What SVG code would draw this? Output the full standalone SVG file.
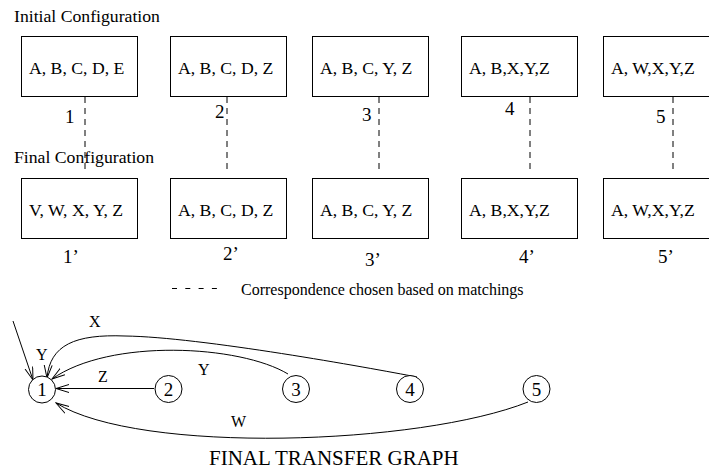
<svg xmlns="http://www.w3.org/2000/svg" width="709" height="471" viewBox="0 0 709 471">
<style>
text{font-family:"Liberation Serif","Times New Roman",serif;fill:#000}
.cap{font-size:17.7px}
.box{fill:#fff;stroke:#000;stroke-width:1}
.bt{font-size:17.7px}
.num{font-size:19px}
.corr{stroke:#000;stroke-width:1;stroke-dasharray:6 5;fill:none}
.node{fill:#fff;stroke:#000;stroke-width:1}
.nt{font-size:19px;text-anchor:middle}
.edge{fill:none;stroke:#000;stroke-width:1;marker-end:url(#arr)}
.el{font-size:16px}
</style>
<defs>
<marker id="arr" markerUnits="userSpaceOnUse" markerWidth="14" markerHeight="10" refX="13" refY="4.5" orient="auto">
<path d="M0,0.5 L13,4.5 L0,8.5" fill="none" stroke="#000" stroke-width="1"/>
</marker>
</defs>

<text class="cap" x="14" y="22">Initial Configuration</text>
<text class="cap" x="14" y="163">Final Configuration</text>

<g id="connectors">
<line class="corr" x1="85" y1="97" x2="85" y2="174"/>
<line class="corr" x1="227" y1="97" x2="227" y2="174"/>
<line class="corr" x1="379" y1="97" x2="379" y2="174"/>
<line class="corr" x1="530" y1="97" x2="530" y2="174"/>
<line class="corr" x1="673" y1="97" x2="673" y2="174"/>
<line x1="172" y1="288.5" x2="217" y2="288.5" stroke="#000" stroke-width="1" stroke-dasharray="5 8.3"/>
<line class="edge" x1="13" y1="321" x2="33" y2="380"/>
<path class="edge" d="M417,377 C370,368 200,337 125,336 C75,334 50,345 47,378"/>
<path class="edge" d="M288,374 C240,345 110,338 52,379"/>
<line class="edge" x1="154" y1="388.5" x2="56" y2="388.5"/>
<path class="edge" d="M528,402 C420,445 140,455 56,403"/>
</g>

<g id="init1"><rect class="box" x="21.5" y="36.5" width="116" height="60"/><text class="bt" x="29" y="74">A, B, C, D, E</text></g>
<g id="init2"><rect class="box" x="170.5" y="36.5" width="116" height="60"/><text class="bt" x="178" y="74">A, B, C, D, Z</text></g>
<g id="init3"><rect class="box" x="312.5" y="36.5" width="116" height="60"/><text class="bt" x="320" y="74">A, B, C, Y, Z</text></g>
<g id="init4"><rect class="box" x="461.5" y="36.5" width="116" height="60"/><text class="bt" x="469" y="74">A, B,X,Y,Z</text></g>
<g id="init5"><rect class="box" x="603.5" y="36.5" width="116" height="60"/><text class="bt" x="611" y="74">A, W,X,Y,Z</text></g>

<g id="final1"><rect class="box" x="21.5" y="178.5" width="116" height="60"/><text class="bt" x="29" y="216">V, W, X, Y, Z</text></g>
<g id="final2"><rect class="box" x="170.5" y="178.5" width="116" height="60"/><text class="bt" x="178" y="216">A, B, C, D, Z</text></g>
<g id="final3"><rect class="box" x="312.5" y="178.5" width="116" height="60"/><text class="bt" x="320" y="216">A, B, C, Y, Z</text></g>
<g id="final4"><rect class="box" x="461.5" y="178.5" width="116" height="60"/><text class="bt" x="469" y="216">A, B,X,Y,Z</text></g>
<g id="final5"><rect class="box" x="603.5" y="178.5" width="116" height="60"/><text class="bt" x="611" y="216">A, W,X,Y,Z</text></g>

<text class="num" x="65" y="123">1</text>
<text class="num" x="215" y="118">2</text>
<text class="num" x="362" y="121">3</text>
<text class="num" x="505" y="115">4</text>
<text class="num" x="656" y="123">5</text>

<text class="num" x="63" y="263">1’</text>
<text class="num" x="223" y="260">2’</text>
<text class="num" x="365" y="266">3’</text>
<text class="num" x="519" y="263">4’</text>
<text class="num" x="658" y="263">5’</text>

<text x="241" y="295" style="font-size:16px">Correspondence chosen based on matchings</text>

<g id="n1"><circle class="node" cx="42" cy="389.5" r="13.5"/><text class="nt" x="42" y="396">1</text></g>
<g id="n2"><circle class="node" cx="168.5" cy="389" r="13.5"/><text class="nt" x="168.5" y="396">2</text></g>
<g id="n3"><circle class="node" cx="296" cy="389" r="13.5"/><text class="nt" x="296" y="396">3</text></g>
<g id="n4"><circle class="node" cx="410" cy="389" r="13.5"/><text class="nt" x="410" y="396">4</text></g>
<g id="n5"><circle class="node" cx="536.5" cy="389" r="13.5"/><text class="nt" x="536.5" y="396">5</text></g>

<text class="el" x="89" y="327">X</text>
<text class="el" x="36" y="360">Y</text>
<text class="el" x="198" y="375">Y</text>
<text class="el" x="98" y="382">Z</text>
<text class="el" x="231" y="427">W</text>

<text x="209" y="465" style="font-size:21px">FINAL TRANSFER GRAPH</text>
</svg>
